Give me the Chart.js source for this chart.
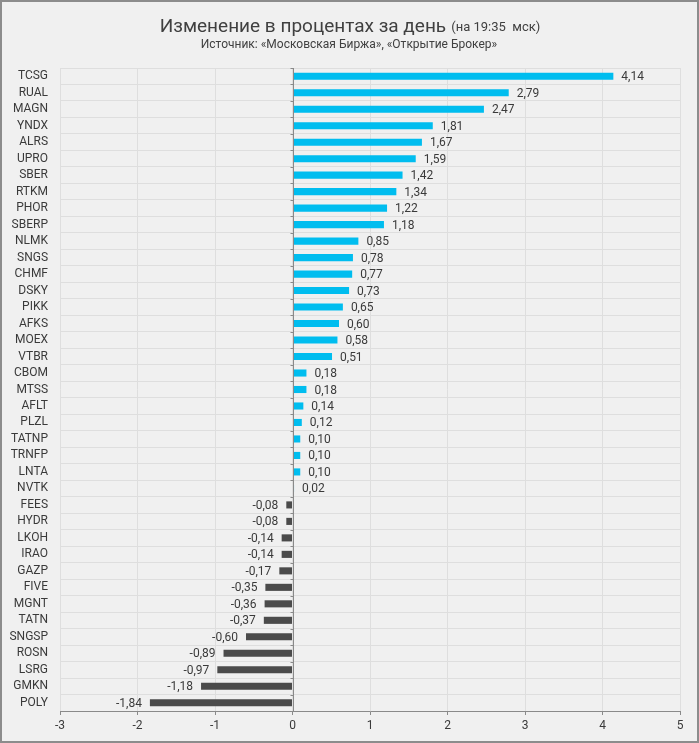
<!DOCTYPE html>
<html>
<head>
<meta charset="utf-8">
<script src="https://cdn.jsdelivr.net/npm/chart.js@4/dist/chart.umd.min.js"></script>
<style>
  html, body { margin: 0; padding: 0; background: #f0f0f0; }
  #grafico { display: block; }
</style>
</head>
<body>
<canvas id="grafico" width="699" height="743" style="width:699px;height:743px"></canvas>
<script>
// Dados
const categorias = ["TCSG","RUAL","MAGN","YNDX","ALRS","UPRO","SBER","RTKM","PHOR","SBERP",
  "NLMK","SNGS","CHMF","DSKY","PIKK","AFKS","MOEX","VTBR","CBOM","MTSS","AFLT","PLZL",
  "TATNP","TRNFP","LNTA","NVTK","FEES","HYDR","LKOH","IRAO","GAZP","FIVE","MGNT","TATN",
  "SNGSP","ROSN","LSRG","GMKN","POLY"];
const valores = [4.14, 2.79, 2.47, 1.81, 1.67, 1.59, 1.42, 1.34, 1.22, 1.18,
  0.85, 0.78, 0.77, 0.73, 0.65, 0.60, 0.58, 0.51, 0.18, 0.18, 0.14, 0.12,
  0.10, 0.10, 0.10, 0.02, -0.08, -0.08, -0.14, -0.14, -0.17, -0.35, -0.36, -0.37,
  -0.60, -0.89, -0.97, -1.18, -1.84];
const eixoMin = -3;
const eixoMax = 5;

const titulo = "Изменение в процентах за день";
const tituloHora = "(на 19:35  мск)";
const subtitulo = "Источник: «Московская Биржа», «Открытие Брокер»";

const fonte = "Roboto, 'Liberation Sans', sans-serif";
const corTexto = "#3a3a3a";

function formatar(v) {
  return v.toFixed(2).replace(".", ",");
}

// Titulo, linha do zero, rotulos e moldura
const extras = {
  id: "extras",
  afterDatasetsDraw(chart) {
    const ctx = chart.ctx;
    const x = chart.scales.x;
    const area = chart.chartArea;
    ctx.save();

    // linha do zero com marcas
    const x0 = Math.round(x.getPixelForValue(0)) + 0.5;
    ctx.strokeStyle = "#8a8a8a";
    ctx.lineWidth = 1;
    ctx.beginPath();
    ctx.moveTo(x0, area.top);
    ctx.lineTo(x0, area.bottom);
    const passo = (area.bottom - area.top) / categorias.length;
    for (let i = 0; i <= categorias.length; i++) {
      const yy = Math.round(area.top + i * passo) + 0.5;
      ctx.moveTo(x0 - 3, yy);
      ctx.lineTo(x0, yy);
    }
    ctx.stroke();

    // rotulos das barras
    ctx.font = "12px " + fonte;
    ctx.fillStyle = corTexto;
    ctx.textBaseline = "middle";
    chart.getDatasetMeta(0).data.forEach((bar, i) => {
      const v = valores[i];
      if (v >= 0) {
        ctx.textAlign = "left";
        ctx.fillText(formatar(v), bar.x + 8, bar.y + 1);
      } else {
        ctx.textAlign = "right";
        ctx.fillText(formatar(v), bar.x - 8, bar.y + 1);
      }
    });

    // titulo
    ctx.textBaseline = "middle";
    ctx.font = "19px " + fonte;
    const w1 = ctx.measureText(titulo).width;
    ctx.font = "13px " + fonte;
    const w2 = ctx.measureText(tituloHora).width;
    const inicio = 350 - (w1 + 5 + w2) / 2;
    ctx.textAlign = "left";
    ctx.fillStyle = "#404040";
    ctx.font = "19px " + fonte;
    ctx.fillText(titulo, inicio, 27);
    ctx.font = "13px " + fonte;
    ctx.fillText(tituloHora, inicio + w1 + 5, 28);
    ctx.textAlign = "center";
    ctx.font = "12px " + fonte;
    ctx.fillText(subtitulo, 349, 45);

    // moldura
    ctx.strokeStyle = "#8c8c8c";
    ctx.lineWidth = 2;
    ctx.strokeRect(1, 1, 697, 741);
    ctx.restore();
  }
};

const ctx = document.getElementById("grafico").getContext("2d");
new Chart(ctx, {
  type: "bar",
  data: {
    labels: categorias,
    datasets: [{
      data: valores,
      backgroundColor: valores.map(v => v >= 0 ? "#00bdef" : "#4b4b4b"),
      barPercentage: 0.43,
      categoryPercentage: 1
    }]
  },
  options: {
    indexAxis: "y",
    responsive: false,
    animation: false,
    layout: { padding: { top: 68, right: 19, bottom: 0, left: 0 } },
    plugins: {
      legend: { display: false },
      tooltip: { enabled: false }
    },
    scales: {
      x: {
        min: eixoMin,
        max: eixoMax,
        ticks: {
          stepSize: 1,
          color: corTexto,
          font: { family: fonte, size: 12 },
          padding: 4
        },
        grid: { color: "#dedede", tickColor: "#8a8a8a", tickLength: 4 },
        border: { display: true, color: "#8a8a8a" },
        afterFit(scale) { scale.height = 32; }
      },
      y: {
        ticks: {
          color: corTexto,
          font: { family: fonte, size: 12 },
          padding: 12,
          autoSkip: false
        },
        grid: { color: "#dedede", drawTicks: false, offset: true },
        border: { display: false },
        afterFit(scale) { scale.width = 60; }
      }
    }
  },
  plugins: [extras]
});
</script>
</body>
</html>
